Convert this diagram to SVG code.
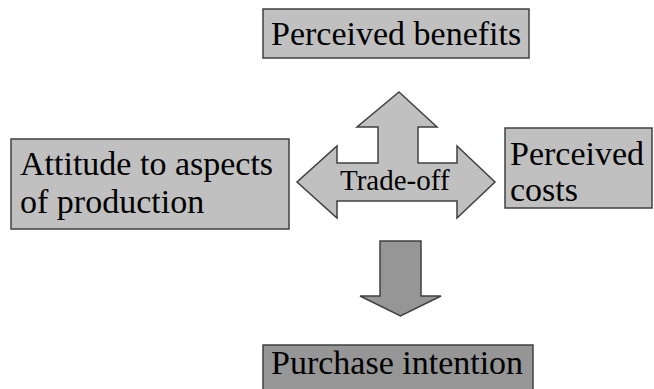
<svg xmlns="http://www.w3.org/2000/svg" width="654" height="389" viewBox="0 0 654 389">
<style>
.box{fill:#c0c0c0;stroke:#404040;stroke-width:1.5}
.dark{fill:#969696;stroke:#404040;stroke-width:1.5}
.t{font-family:"Liberation Serif","Times New Roman","DejaVu Serif",serif;font-size:34px;fill:#000}
.tr{font-family:"Liberation Serif","Times New Roman","DejaVu Serif",serif;font-size:29px;fill:#000}
</style>
<rect width="654" height="389" fill="#fff"/>
<g id="benefits">
<rect class="box" x="263" y="9" width="266" height="49"/>
<text class="t" x="271" y="45">Perceived benefits</text>
</g>
<g id="attitude">
<rect class="box" x="11" y="139" width="278" height="90"/>
<text class="t" x="20" y="175">Attitude to aspects</text>
<text class="t" x="20" y="213">of production</text>
</g>
<g id="costs">
<rect class="box" x="505" y="128" width="147" height="80"/>
<text class="t" x="510" y="165">Perceived</text>
<text class="t" x="510" y="201">costs</text>
</g>
<g id="purchase">
<rect class="dark" x="263" y="345" width="270" height="50"/>
<text class="t" x="271" y="374">Purchase intention</text>
</g>
<g id="connectors">
<g id="tradeoff">
<polygon class="box" points="399,92 437,127 418,127 418,163 457,163 457,146 495,182 457,218 457,201 337,201 337,218 297,182 337,146 337,163 378,163 378,127 357,127"/>
<text class="tr" x="340" y="190">Trade-off</text>
</g>
<polygon id="down" class="dark" points="380,241 421,241 421,296 441,296 400.5,316 360,296 380,296"/>
</g>
</svg>
